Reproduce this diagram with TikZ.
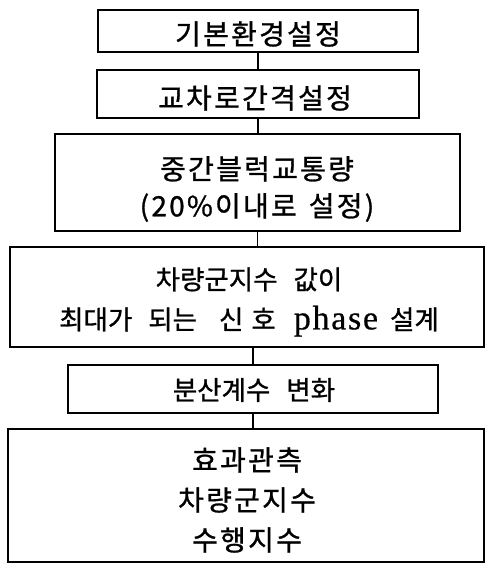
\documentclass[tikz,border=0pt]{standalone}
\usepackage{fontspec}
\setmainfont{Noto Sans CJK KR}[LetterSpace=8, FakeBold=1]
\newfontfamily\tightkr{Noto Sans CJK KR}[FakeBold=1]
\newfontfamily\latinserif{Liberation Serif}[FakeBold=0.6, LetterSpace=5]
\begin{document}
\begin{tikzpicture}[x=1pt,y=-1pt,
  stepbox/.style={draw=black, line width=1.6pt, inner sep=0pt},
  steptext/.style={inner sep=0pt, align=center, font=\fontsize{28}{37}\selectfont},
  tighttext/.style={inner sep=0pt, align=center, font=\tightkr\fontsize{26.5}{40}\selectfont},
  link/.style={line width=1.6pt}]
\useasboundingbox (0,0) rectangle (486,572);
% boxes
\node[stepbox, minimum width=320pt, minimum height=42pt] (b1) at (258,31) {};
\node[stepbox, minimum width=322pt, minimum height=48pt] (b2) at (258,94) {};
\node[stepbox, minimum width=405pt, minimum height=97pt] (b3) at (257.5,182.5) {};
\node[stepbox, minimum width=474pt, minimum height=100pt] (b4) at (247,297) {};
\node[stepbox, minimum width=370pt, minimum height=48pt] (b5) at (253,389) {};
\node[stepbox, minimum width=476pt, minimum height=133pt] (b6) at (246,495.5) {};
% texts
\node[steptext] (t1) at (258,34) {기본환경설정};
\node[steptext] (t2) at (255,98) {교차로간격설정};
\node[steptext] (t3) at (257,189) {중간블럭교통량\\(20\%이내로\hspace{12pt}설정)};
\node[tighttext] (t4) at (249,302)
  {차량군지수\hspace{16pt}값이\\최대가\hspace{16pt}되는\hspace{22pt}신\hspace{8pt}호\hspace{18pt}{\latinserif\fontsize{34}{40}\selectfont phase}\hspace{12pt}설계};
\node[tighttext] (t5) at (254,390) {분산계수\hspace{16pt}변화};
\node[steptext, font=\fontsize{28}{40}\selectfont] (t6) at (247,500) {효과관측\\차량군지수\\수행지수};
% connectors
\draw[link] (b1.south) -- (b1.south |- b2.north);
\draw[link] (b2.south) -- (b2.south |- b3.north);
\draw[link] (b3.south) -- (b3.south |- b4.north);
\draw[link] (b5.north) -- (b5.north |- b4.south);
\draw[link] (b5.south) -- (b5.south |- b6.north);
\end{tikzpicture}
\end{document}
